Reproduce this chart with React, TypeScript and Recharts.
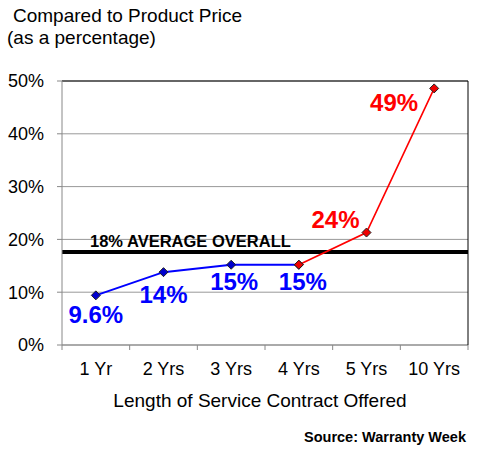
import React from 'react';
import {
  LineChart,
  Line,
  XAxis,
  YAxis,
  CartesianGrid,
  ReferenceLine,
  LabelList,
  Label,
} from 'recharts';

const categories = ['1 Yr', '2 Yrs', '3 Yrs', '4 Yrs', '5 Yrs', '10 Yrs'];
const blueValues = [9.4, 13.8, 15.2, 15.2, null, null];
const redValues = [null, null, null, 15.2, 21.3, 48.6];
const blueLabels = ['9.6%', '14%', '15%', '15%', null, null];
const redLabels = [null, null, null, null, '24%', '49%'];
const yTicks = [0, 10, 20, 30, 40, 50];
const averageValue = 17.6;
const averageText = '18% AVERAGE OVERALL';

const data = categories.map((name, i) => ({
  name,
  blue: blueValues[i],
  red: redValues[i],
}));

const W = 480;
const H = 450;
const LEFT = 62;
const RIGHT = 12;
const TOP = 81;
const XAXIS_H = 105;
const BAND = (W - LEFT - RIGHT) / categories.length;
const FONT = '"Liberation Sans", Arial, sans-serif';

const diamond = (fill: string) => (props: any) => {
  const { cx, cy, value, index } = props;
  if (value == null || cx == null || cy == null) return <g key={`d-${index}`} />;
  const r = 4.5;
  return (
    <polygon
      key={`d-${index}`}
      points={`${cx},${cy - r} ${cx + r},${cy} ${cx},${cy + r} ${cx - r},${cy}`}
      fill={fill}
      stroke="#222"
      strokeWidth={1}
    />
  );
};

// hand placed like the original excel labels
const blueOffsets: Record<number, [number, number]> = {
  0: [0, 28],
  1: [0, 31],
  2: [3, 25],
  3: [4, 25],
};
const redOffsets: Record<number, [number, number]> = {
  4: [-7, -5],
  5: [-16, 23],
};

const makeLabel =
  (texts: (string | null)[], offsets: Record<number, [number, number]>, color: string, anchor: string) =>
  (props: any) => {
    const { x, y, index } = props;
    const t = texts[index];
    if (!t || x == null || y == null) return null;
    const [dx, dy] = offsets[index] || [0, 0];
    return (
      <text
        x={x + dx}
        y={y + dy}
        textAnchor={anchor}
        fill={color}
        fontSize={24}
        fontWeight="bold"
        fontFamily={FONT}
      >
        {t}
      </text>
    );
  };

const XTick = (props: any) => {
  const { x, y, payload, index } = props;
  const last = index === categories.length - 1;
  return (
    <g>
      <line x1={x - BAND / 2} y1={y} x2={x - BAND / 2} y2={y + 5} stroke="#888" />
      {last && <line x1={x + BAND / 2} y1={y} x2={x + BAND / 2} y2={y + 5} stroke="#888" />}
      <text x={x} y={y + 30} textAnchor="middle" fontSize={18} fill="#000" fontFamily={FONT}>
        {payload.value}
      </text>
    </g>
  );
};

const AvgLabel = (props: any) => {
  const { viewBox } = props;
  return (
    <text
      x={viewBox.x + 28}
      y={viewBox.y - 5}
      fontSize={16.5}
      fontWeight="bold"
      fill="#000"
      fontFamily={FONT}
    >
      {averageText}
    </text>
  );
};

const AxisTitle = (props: any) => {
  const { viewBox } = props;
  return (
    <text
      x={viewBox.x + viewBox.width / 2 - 5}
      y={viewBox.y + 62}
      textAnchor="middle"
      fontSize={19}
      fill="#000"
      fontFamily={FONT}
    >
      Length of Service Contract Offered
    </text>
  );
};

export default function App() {
  return (
    <div style={{ position: 'absolute', left: 0, top: 0, width: W, height: H, background: '#fff', fontFamily: FONT }}>
      <div style={{ position: 'absolute', left: 13, top: 5, fontSize: 19, color: '#000', lineHeight: '22px', whiteSpace: 'nowrap' }}>
        Compared to Product Price
      </div>
      <div style={{ position: 'absolute', left: 7, top: 27, fontSize: 19, color: '#000', lineHeight: '22px', whiteSpace: 'nowrap' }}>
        (as a percentage)
      </div>
      <div
        style={{
          position: 'absolute',
          right: 14,
          top: 428,
          fontSize: 14.5,
          fontWeight: 'bold',
          color: '#000',
          lineHeight: '18px',
          whiteSpace: 'nowrap',
        }}
      >
        Source: Warranty Week
      </div>
      <LineChart width={W} height={H} data={data} margin={{ top: TOP, right: 0, bottom: 0, left: 0 }}>
        <CartesianGrid vertical={false} stroke="#999" />
        <XAxis
          dataKey="name"
          scale="band"
          height={XAXIS_H}
          axisLine={{ stroke: '#888' }}
          tickLine={false}
          tickSize={0}
          tickMargin={0}
          tick={<XTick />}
          interval={0}
        >
          <Label content={<AxisTitle />} />
        </XAxis>
        <YAxis
          width={LEFT}
          domain={[0, 50]}
          ticks={yTicks}
          tickFormatter={(v: number) => `${v}%`}
          axisLine={{ stroke: '#888' }}
          tickLine={{ stroke: '#888' }}
          tickSize={5}
          tickMargin={13}
          tick={{ fontSize: 18, fill: '#000', fontFamily: FONT }}
        />
        <YAxis
          yAxisId="right"
          orientation="right"
          width={RIGHT}
          domain={[0, 50]}
          axisLine={{ stroke: '#000' }}
          tick={false}
          tickLine={false}
        />
        <ReferenceLine y={50} stroke="#000" strokeWidth={1} />
        <ReferenceLine y={averageValue} stroke="#000" strokeWidth={4} label={<AvgLabel />} />
        <Line
          dataKey="blue"
          stroke="#0000FF"
          strokeWidth={2}
          dot={diamond('#0000CC')}
          activeDot={false}
          isAnimationActive={false}
        >
          <LabelList dataKey="blue" content={makeLabel(blueLabels, blueOffsets, '#0000FF', 'middle')} />
        </Line>
        <Line
          dataKey="red"
          stroke="#FF0000"
          strokeWidth={1.6}
          dot={diamond('#EE0000')}
          activeDot={false}
          isAnimationActive={false}
        >
          <LabelList dataKey="red" content={makeLabel(redLabels, redOffsets, '#FF0000', 'end')} />
        </Line>
      </LineChart>
    </div>
  );
}
